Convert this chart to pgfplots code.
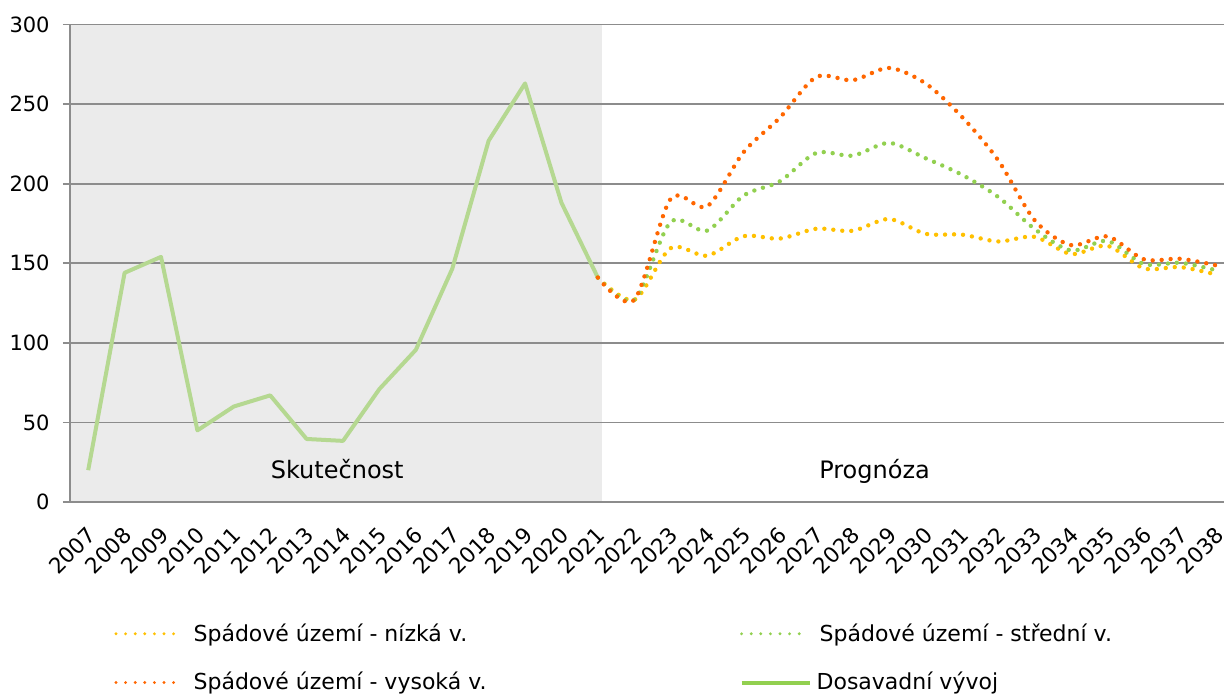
\documentclass[border=0pt]{standalone}
\usepackage{fontspec}
\setmainfont{DejaVu Sans}
\usepackage{pgfplots}
\pgfplotsset{compat=1.18}
\definecolor{gridgray}{RGB}{140,140,140}
\definecolor{bggray}{RGB}{235,235,235}
\definecolor{actgreen}{RGB}{181,216,145}
\definecolor{leggreen}{RGB}{146,208,80}
\definecolor{dotorange}{RGB}{255,102,0}
\definecolor{dotyellow}{RGB}{255,192,0}
\pgfplotsset{
  dotleg/.style={legend image code/.code={\draw[##1] (0pt,0pt) -- (30pt,0pt);}},
  solidleg/.style={legend image code/.code={\draw[##1] (0pt,0pt) -- (34pt,0pt);}},
}
\begin{document}
\fontsize{10.5}{12.6}\selectfont
\begin{tikzpicture}
\begin{axis}[
  set layers,
  scale only axis, width=577pt, height=238.75pt,
  xmin=-0.5, xmax=31.2, ymin=0, ymax=300,
  axis x line=bottom, axis y line=left,
  axis line style={-, draw=gridgray, line width=0.9pt},
  ytick={0,50,...,300}, ymajorgrids,
  grid style={draw=gridgray, line width=0.9pt},
  tick align=outside, major tick length=3.5pt,
  tick style={draw=gridgray, line width=0.9pt},
  /pgf/number format/assume math mode=true,
  yticklabel style={xshift=-3pt},
  xtick={0,...,31},
  xticklabels={2007,2008,2009,2010,2011,2012,2013,2014,2015,2016,2017,2018,2019,2020,2021,2022,2023,2024,2025,2026,2027,2028,2029,2030,2031,2032,2033,2034,2035,2036,2037,2038},
  xtick style={/pgfplots/major tick length=0pt},
  xticklabel style={rotate=45, anchor=east, xshift=-3pt, yshift=-9pt, font=\fontsize{10.8}{13}\selectfont},
  extra x ticks={-0.5,0.5,...,30.5},
  extra x tick labels={},
  extra x tick style={grid=none, /pgfplots/major tick length=4pt},
  legend columns=2,
  legend style={at={(22pt,-58.5pt)}, anchor=north west, draw=none, fill=none,
    cells={anchor=west}, row sep=10pt, inner sep=0pt,
    font=\fontsize{11}{13}\selectfont,
    /tikz/every odd column/.style={column sep=6pt}},
  dotleg,
]
\addplot[fill=bggray, draw=none, forget plot, on layer=axis background]
  coordinates {(-0.5,300) (14.1,300)} \closedcycle;

\addlegendimage{dotleg, dotyellow, line width=1.6pt, line cap=round, dash pattern=on 0pt off 4.8pt}
\addlegendentry{\makebox[271pt][l]{Spádové území - nízká v.}}
\addlegendimage{dotleg, leggreen, line width=1.6pt, line cap=round, dash pattern=on 0pt off 4.8pt}
\addlegendentry{\hspace{-4pt}Spádové území - střední v.}
\addlegendimage{dotleg, dotorange, line width=1.6pt, line cap=round, dash pattern=on 0pt off 4.8pt}
\addlegendentry{\makebox[271pt][l]{Spádové území - vysoká v.}}
\addlegendimage{solidleg, leggreen, line width=2pt}
\addlegendentry{\hspace{-5.5pt}Dosavadní vývoj}

\addplot[actgreen, line width=2pt, line join=round, forget plot] coordinates {
(0,20) (1,144) (2,154) (3,45) (4,60) (5,67) (6,39.6) (7,38.4) (8,71) (9,95.6)
(10,146.5) (11,227) (12,263) (13,188) (14,141)};

\addplot[dotyellow, line width=2.2pt, line cap=round, dash pattern=on 0pt off 4.5pt, smooth, tension=0.5, forget plot] coordinates {
(14,141) (15,127) (16,159.5) (17,154.7) (18,167) (19,165.5) (20,171.7) (21,170.4) (22,177.8)
(23,168.5) (24,168) (25,163.7) (26,166.6) (27,155.8) (28,161) (29,146.8) (30,147.6) (31,142.8)};

\addplot[leggreen, line width=2.2pt, line cap=round, dash pattern=on 0pt off 4.5pt, smooth, tension=0.5, forget plot] coordinates {
(14,141) (15,127) (16,176) (17,170.5) (18,192.5) (19,201.5) (20,219.3) (21,217.6) (22,225.6)
(23,216) (24,205.6) (25,191.6) (26,171.5) (27,158) (28,164) (29,149.5) (30,150.3) (31,145.5)};

\addplot[dotorange, line width=2.2pt, line cap=round, dash pattern=on 0pt off 4.5pt, smooth, tension=0.5, forget plot] coordinates {
(14,141) (15,127) (16,190.5) (17,185.7) (18,219.7) (19,241.5) (20,267) (21,265) (22,272.7)
(23,263) (24,242) (25,214.6) (26,177) (27,161.4) (28,166.9) (29,152.5) (30,152.8) (31,148.6)};

\node[font=\fontsize{12}{14}\selectfont] at (axis cs:6.84,20.7) {Skutečnost};
\node[font=\fontsize{12}{14}\selectfont] at (axis cs:21.6,19.5) {Prognóza};
\end{axis}
\pgfresetboundingbox
\useasboundingbox (-35pt,-95.5pt) rectangle (577pt,251pt);
\end{tikzpicture}
\end{document}
